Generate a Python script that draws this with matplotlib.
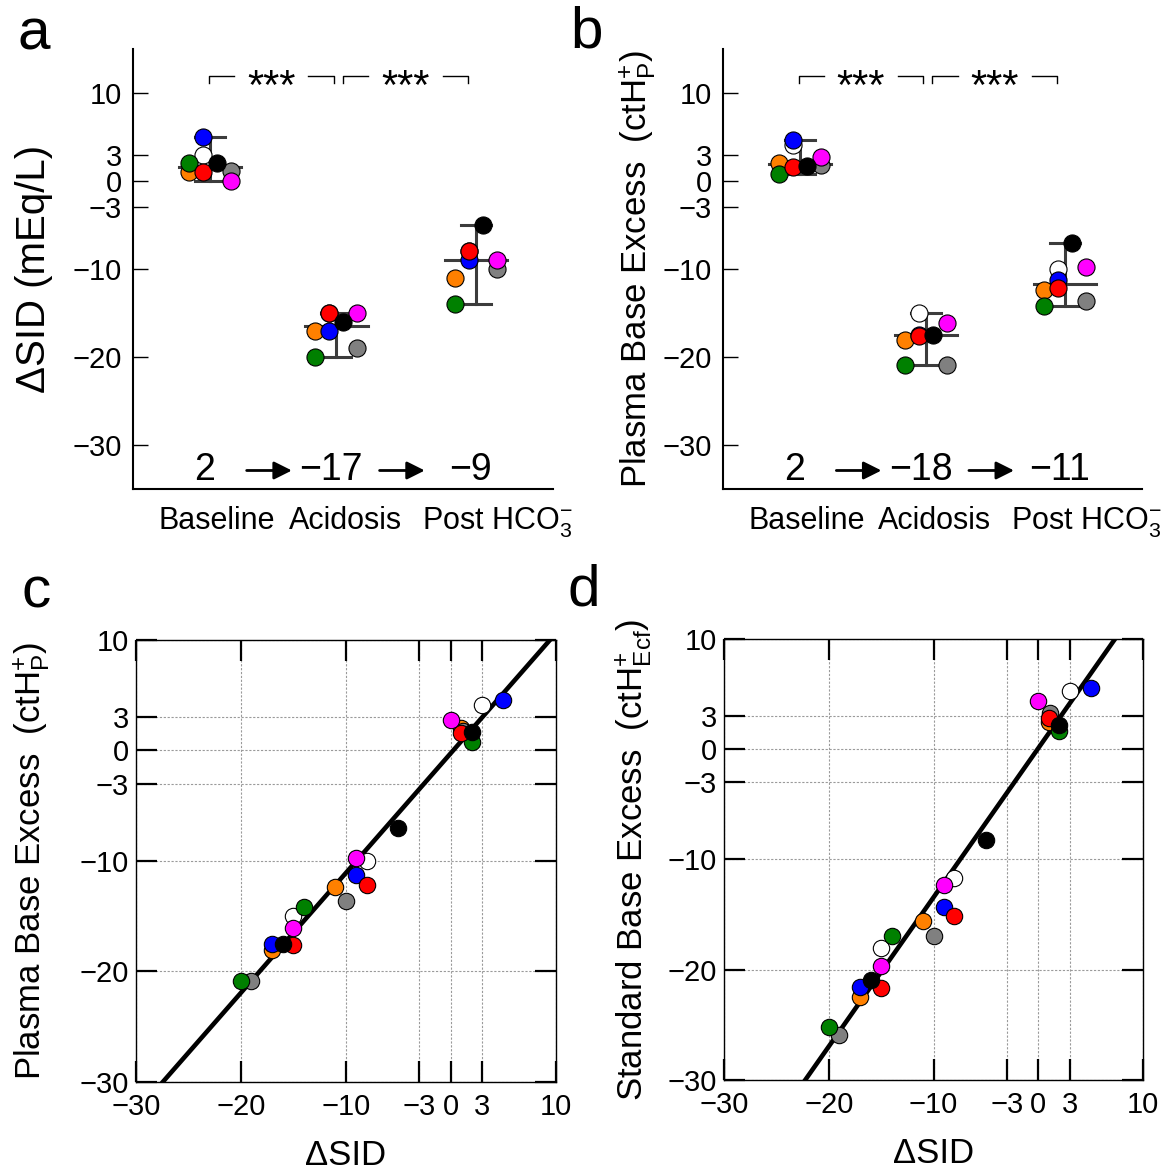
import matplotlib
matplotlib.use('Agg')
import matplotlib.pyplot as plt
import numpy as np

plt.rcParams['font.family'] = ['Liberation Sans', 'DejaVu Sans']
plt.rcParams['mathtext.fontset'] = 'custom'
plt.rcParams['mathtext.rm'] = 'Liberation Sans'
plt.rcParams['mathtext.it'] = 'Liberation Sans:italic'
plt.rcParams['mathtext.bf'] = 'Liberation Sans:bold'

# subjects (drawing order) and their colours
subject_colors = ['white', '#ff8000', '#808080', '#008000', '#0000ff', '#ff0000', '#ff00ff', 'black']
subject_slot = [-0.5, -1.5, 1.5, -1.5, -0.5, -0.5, 1.5, 0.5]

phases = ['Baseline', 'Acidosis', r'Post HCO$_3^{-}$']

# delta SID (mEq/L) per subject
dsid_baseline = [3.0, 1.0, 1.1, 2.0, 5.0, 1.0, 0.0, 2.0]
dsid_acidosis = [-15.0, -17.0, -19.0, -20.0, -17.0, -15.0, -15.0, -16.0]
dsid_post = [-8.0, -11.0, -10.0, -14.0, -9.0, -8.0, -9.0, -5.0]

# plasma base excess (ctH+P)
bep_baseline = [4.1, 2.0, 1.8, 0.75, 4.6, 1.6, 2.75, 1.7]
bep_acidosis = [-15.0, -18.1, -20.9, -20.9, -17.5, -17.6, -16.1, -17.5]
bep_post = [-10.0, -12.4, -13.6, -14.2, -11.3, -12.2, -9.75, -7.0]

# standard base excess (ctH+Ecf)
sbe_baseline = [5.3, 2.5, 3.3, 1.7, 5.6, 2.85, 4.35, 2.2]
sbe_acidosis = [-18.0, -22.5, -25.9, -25.2, -21.6, -21.7, -19.7, -20.9]
sbe_post = [-11.7, -15.6, -16.9, -16.9, -14.3, -15.1, -12.3, -8.2]

ticks = [-30, -20, -10, -3, 0, 3, 10]
tick_labels = [str(t).replace('-', '\u2212') for t in ticks]

group_x = [1.0, 1.95, 3.0]
label_x = [1.05, 2.015, 3.16]
step = 0.105
bar_color = '#3c3c3c'

label_pt = 25
tick_pt = 21


def minus(s):
    return s.replace('-', '\u2212')


def strip_panel(ax, groups, ylabel, ylabel_x, ylabel_pt):
    for x0, vals in zip(group_x, groups):
        vals = np.asarray(vals)
        lo, hi, med = vals.min(), vals.max(), np.median(vals)
        ax.plot([x0, x0], [lo, hi], color=bar_color, lw=2.2, zorder=1)
        ax.plot([x0 - 0.113, x0 + 0.113], [hi, hi], color=bar_color, lw=2.2, zorder=1)
        ax.plot([x0 - 0.113, x0 + 0.113], [lo, lo], color=bar_color, lw=2.2, zorder=1)
        ax.plot([x0 - 0.235, x0 + 0.235], [med, med], color=bar_color, lw=2.2, zorder=1)
        for v, c, s in zip(vals, subject_colors, subject_slot):
            ax.plot(x0 + s * step, v, 'o', mfc=c, mec='k', mew=0.8, ms=12.3, zorder=3)

    # group means
    means = [int(round(np.mean(g))) for g in groups]
    for x0, m in zip(group_x, means):
        ax.text(x0 - 0.04, -34, minus(str(m)), ha='center', va='baseline', fontsize=27)
    for i in range(2):
        mid = (group_x[i] + group_x[i + 1]) / 2 - 0.03
        ax.annotate('', xy=(mid + 0.17, -32.9), xytext=(mid - 0.17, -32.9),
                    arrowprops=dict(arrowstyle='-|>', color='k', lw=2.0, mutation_scale=27,
                                    shrinkA=0, shrinkB=0))

    # significance brackets
    for left, right in [(group_x[0] - 0.01, group_x[1] - 0.02), (group_x[1] + 0.05, group_x[2] - 0.06)]:
        mid = (left + right) / 2
        kw = dict(color='k', lw=1.0, clip_on=False)
        ax.plot([left, left, mid - 0.28], [11.1, 11.9, 11.9], **kw)
        ax.plot([mid + 0.28, right, right], [11.9, 11.9, 11.1], **kw)
        ax.text(mid, 9.3, '***', ha='center', va='baseline', fontsize=30)

    ax.set_xlim(0.42, 3.58)
    ax.set_ylim(-35, 15)
    ax.set_yticks(ticks)
    ax.set_yticklabels(tick_labels, fontsize=tick_pt)
    ax.set_xticks(label_x)
    ax.set_xticklabels(phases, fontsize=22)
    ax.tick_params(axis='y', direction='in', length=11, width=1.0, pad=8)
    ax.tick_params(axis='x', length=0, pad=12)
    for side in ['top', 'right']:
        ax.spines[side].set_visible(False)
    for side in ['left', 'bottom']:
        ax.spines[side].set_linewidth(1.5)
    ax.set_ylabel(ylabel, fontsize=ylabel_pt)
    ax.yaxis.set_label_coords(ylabel_x, 0.5)


def scatter_panel(ax, xs, ys, ylabel, ylabel_x):
    xs = [np.asarray(g) for g in xs]
    ys = [np.asarray(g) for g in ys]
    x_all = np.concatenate(xs)
    y_all = np.concatenate(ys)
    slope, icpt = np.polyfit(x_all, y_all, 1)
    line_x = np.array([-30.0, 10.0])
    ax.plot(line_x, slope * line_x + icpt, color='k', lw=3.3, zorder=2)
    for k, c in enumerate(subject_colors):
        ax.plot([g[k] for g in xs], [g[k] for g in ys], 'o', ls='none', mfc=c, mec='k',
                mew=0.8, ms=11.8, zorder=3)
    ax.set_xlim(-30, 10)
    ax.set_ylim(-30, 10)
    ax.set_xticks(ticks)
    ax.set_xticklabels(tick_labels, fontsize=tick_pt)
    ax.set_yticks(ticks)
    ax.set_yticklabels(tick_labels, fontsize=tick_pt)
    ax.tick_params(direction='in', length=15, width=1.6, top=True, right=True)
    ax.tick_params(axis='x', pad=8)
    ax.tick_params(axis='y', pad=5)
    ax.grid(True, color='#9a9a9a', lw=0.8, linestyle=(0, (2, 1.5)))
    ax.set_axisbelow(True)
    for sp in ax.spines.values():
        sp.set_linewidth(1.0)
    ax.set_xlabel('\u0394SID', fontsize=label_pt)
    ax.xaxis.set_label_coords(0.5, -0.13)
    ax.set_ylabel(ylabel, fontsize=label_pt)
    ax.yaxis.set_label_coords(ylabel_x, 0.5)


fig = plt.figure(figsize=(11.68, 11.74), dpi=100)
ax_a = fig.add_axes([0.1139, 0.5835, 0.3596, 0.3748])
ax_b = fig.add_axes([0.6190, 0.5835, 0.3587, 0.3748])
ax_c = fig.add_axes([0.1164, 0.0784, 0.3596, 0.3765])
ax_d = fig.add_axes([0.6199, 0.0801, 0.3587, 0.3756])

strip_panel(ax_a, [dsid_baseline, dsid_acidosis, dsid_post], '\u0394SID (mEq/L)', -0.19, 29)
strip_panel(ax_b, [bep_baseline, bep_acidosis, bep_post],
            r'Plasma Base Excess  (ct$\mathrm{H}^{+}_{\mathrm{P}}$)', -0.155, label_pt)
scatter_panel(ax_c, [dsid_baseline, dsid_acidosis, dsid_post], [bep_baseline, bep_acidosis, bep_post],
              r'Plasma Base Excess  (ct$\mathrm{H}^{+}_{\mathrm{P}}$)', -0.20)
scatter_panel(ax_d, [dsid_baseline, dsid_acidosis, dsid_post], [sbe_baseline, sbe_acidosis, sbe_post],
              r'Standard Base Excess  (ct$\mathrm{H}^{+}_{\mathrm{Ecf}}$)', -0.167)

for letter, x, y in [('a', 18, 49), ('b', 570, 48), ('c', 22, 608), ('d', 567, 606)]:
    fig.text(x / 1168, 1 - y / 1174, letter, fontsize=42, ha='left', va='baseline')

fig.savefig('out.png', dpi=100)
